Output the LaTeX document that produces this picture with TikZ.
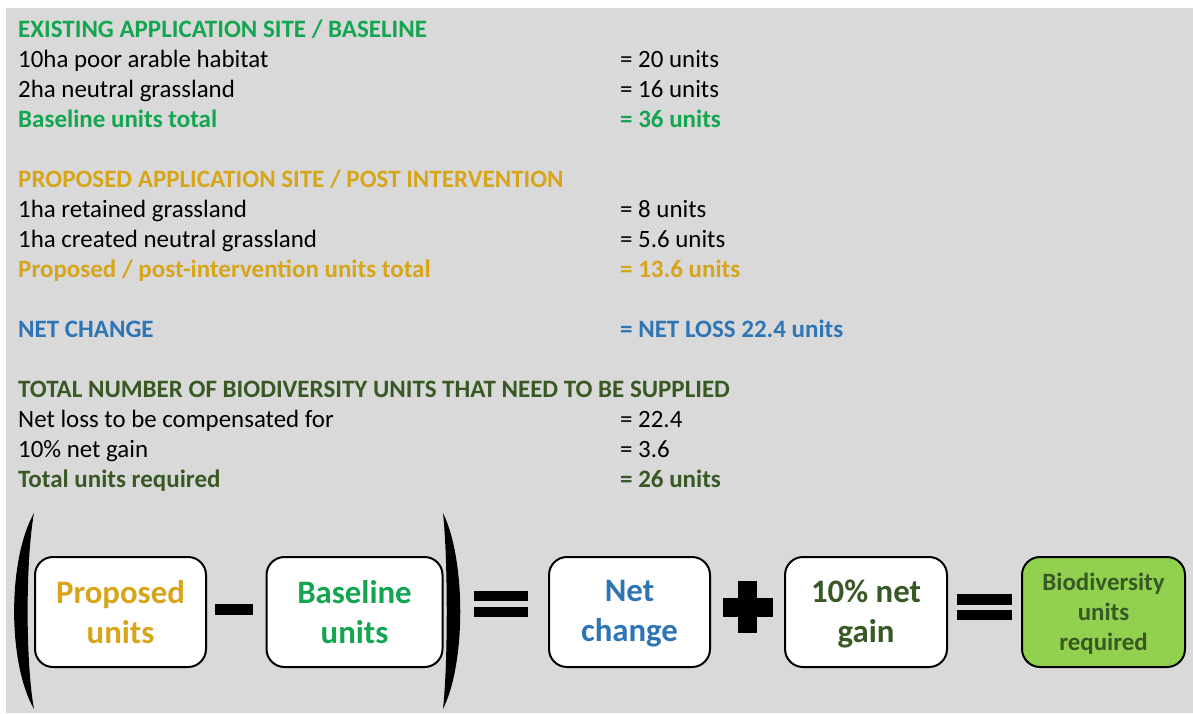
\documentclass[tikz,border=0pt]{standalone}
\usepackage{fontspec}
\setmainfont{Carlito}
\definecolor{bg}{HTML}{D9D9D9}
\definecolor{cgreen}{RGB}{20,165,80}
\definecolor{cgold}{RGB}{215,165,25}
\definecolor{cblue}{RGB}{46,117,182}
\definecolor{cdark}{RGB}{56,88,36}
\definecolor{cfill}{HTML}{92D050}
\tikzset{
  txt/.style={anchor=base west, inner sep=0pt, font=\fontsize{24.9}{30}\selectfont},
  hd/.style={txt, font=\fontsize{25}{30}\selectfont\bfseries},
  eqbox/.style={draw=black, line width=2pt, rounded corners=18pt, fill=white,
    minimum height=110pt, align=center, inner sep=0pt,
    font=\fontsize{32.8}{40}\selectfont\bfseries},
  eqtext/.style={align=center, inner sep=0pt, font=\fontsize{32.8}{40}\selectfont\bfseries},
}
\begin{document}
\begin{tikzpicture}[x=1pt,y=-1pt]
\useasboundingbox (0,0) rectangle (1193,713);
\fill[white] (0,0) rectangle (1193,713);
\fill[bg] (6,8) rectangle (1193,713);

% section 1
\node[hd, text=cgreen] (h1) at (18,37) {EXISTING APPLICATION SITE / BASELINE};
\node[txt] (a1) at (18,67) {10ha poor arable habitat};
\node[txt] (a1v) at (620,67) {= 20 units};
\node[txt] (a2) at (18,97) {2ha neutral grassland};
\node[txt] (a2v) at (620,97) {= 16 units};
\node[hd, text=cgreen] (a3) at (18,127) {Baseline units total};
\node[hd, text=cgreen] (a3v) at (620,127) {= 36 units};

% section 2
\node[hd, text=cgold] (h2) at (18,187) {PROPOSED APPLICATION SITE / POST INTERVENTION};
\node[txt] (b1) at (18,217) {1ha retained grassland};
\node[txt] (b1v) at (620,217) {= 8 units};
\node[txt] (b2) at (18,247) {1ha created neutral grassland};
\node[txt] (b2v) at (620,247) {= 5.6 units};
\node[hd, text=cgold] (b3) at (18,277) {Proposed / post-intervention units total};
\node[hd, text=cgold] (b3v) at (620,277) {= 13.6 units};

% section 3
\node[hd, text=cblue] (h3) at (18,337) {NET CHANGE};
\node[hd, text=cblue] (h3v) at (620,337) {= NET LOSS 22.4 units};

% section 4
\node[hd, text=cdark] (h4) at (18,397) {TOTAL NUMBER OF BIODIVERSITY UNITS THAT NEED TO BE SUPPLIED};
\node[txt] (c1) at (18,427) {Net loss to be compensated for};
\node[txt] (c1v) at (620,427) {= 22.4};
\node[txt] (c2) at (18,457) {10\% net gain};
\node[txt] (c2v) at (620,457) {= 3.6};
\node[hd, text=cdark] (c3) at (18,487) {Total units required};
\node[hd, text=cdark] (c3v) at (620,487) {= 26 units};

% equation boxes
\node[eqbox, minimum width=171pt, text=cgold] (prop) at (120.5,612) {Proposed\\units};
\node[eqbox, minimum width=176pt, text=cgreen] (base) at (354.5,612) {Baseline\\units};
\node[eqbox, minimum width=161pt] (net) at (629.5,612) {};
\node[eqtext, text=cblue] (nett) at (629.5,614) {Net\\change};
\node[eqbox, minimum width=162pt] (gain) at (866,612) {};
\node[eqtext, text=cdark] (gaint) at (866,614) {10\% net\\gain};
\node[eqbox, minimum width=163pt, fill=cfill] (req) at (1103.5,612) {};
\node[eqtext, text=cdark, font=\fontsize{24.9}{30}\selectfont\bfseries] (reqt) at (1103.5,614) {Biodiversity\\units\\required};

% parentheses
\fill[black] (34,513) .. controls (7.5,560) and (7.5,663) .. (34,709)
  .. controls (25.5,663) and (25.5,560) .. (34,513) -- cycle;
\fill[black] (443,513) .. controls (466,560) and (466,663) .. (443,709)
  .. controls (448,663) and (448,560) .. (443,513) -- cycle;

% operators
\fill[black] (215,604) rectangle (253,615);
\fill[black] (474,591) rectangle (528,601);
\fill[black] (474,607) rectangle (528,617);
\fill[black] (723,598) rectangle (773,617);
\fill[black] (738,581) rectangle (757,633);
\fill[black] (957,594) rectangle (1012,605);
\fill[black] (957,610) rectangle (1012,620);
\end{tikzpicture}
\end{document}
